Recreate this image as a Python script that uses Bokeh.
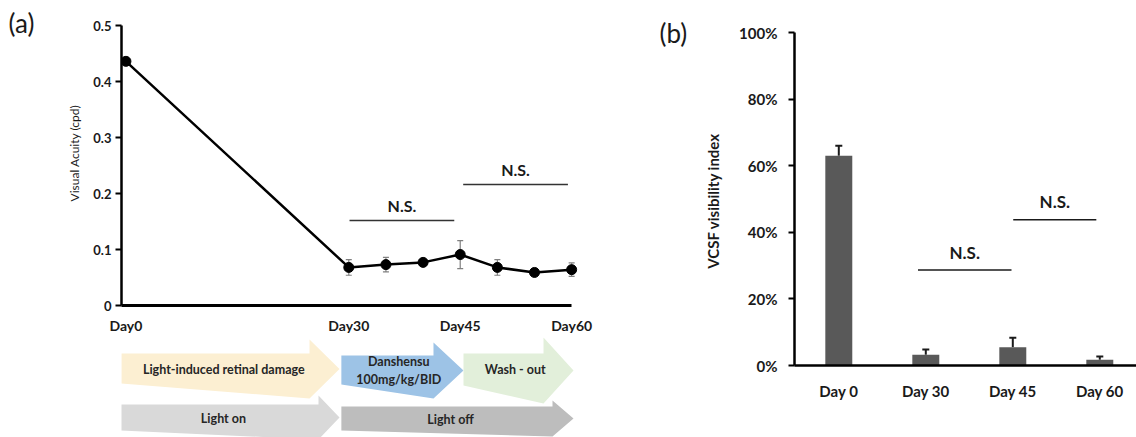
from bokeh.plotting import figure
from bokeh.models import Range1d, FixedTicker, Whisker, ColumnDataSource, TeeHead, NumeralTickFormatter
from bokeh.layouts import row, column
from bokeh.embed import file_html
from bokeh.resources import INLINE
from bokeh.core.properties import value

# ---------------- data ----------------
# (a) visual acuity
va_days = [0, 30, 35, 40, 45, 50, 55, 60]
va_mean = [0.436, 0.068, 0.073, 0.077, 0.091, 0.068, 0.059, 0.064]
va_err = [0.004, 0.014, 0.013, 0.005, 0.025, 0.014, 0.005, 0.012]
va_tick_days = [0, 30, 45, 60]
va_tick_labels = ["Day0", "Day30", "Day45", "Day60"]
va_yticks = [0, 0.1, 0.2, 0.3, 0.4, 0.5]
va_ns_x0 = [30.1, 45.4]
va_ns_x1 = [44.2, 59.5]
va_ns_y = [0.152, 0.216]

# timeline phases
treat_labels = ["Light-induced retinal damage", "Danshensu\n100mg/kg/BID", "Wash - out"]
treat_start = [0, 30, 45]
treat_end = [30, 45, 60]
light_labels = ["Light on", "Light off"]
light_start = [0, 30]
light_end = [30, 60]

# (b) VCSF visibility index
vcsf_days = ["Day 0", "Day 30", "Day 45", "Day 60"]
vcsf_mean = [0.63, 0.032, 0.055, 0.017]
vcsf_err = [0.03, 0.016, 0.028, 0.010]
vcsf_yticks = [0, 0.2, 0.4, 0.6, 0.8, 1.0]
vcsf_ns_x0 = [0.91, 2.005]
vcsf_ns_x1 = [1.985, 2.96]
vcsf_ns_y = [0.287, 0.438]

panel_tags = ["(a)", "(b)"]

# ---------------- style ----------------
FONT = "Lato"
TXT = "#1a1a1a"
DAY_PX = 7.4286      # px per day in panel (a)
DAY0_PX = 125.43     # page x of day 0
VA_PX = 560.0        # px per unit of acuity
VA0_PY = 305.0       # page y of acuity 0

def style_fig(p):
    p.xgrid.visible = False
    p.ygrid.visible = False
    p.outline_line_color = None
    p.background_fill_color = None
    p.border_fill_color = None

# ---------------- "(a)" tag strip ----------------
fa = figure(width=50, height=437, x_range=Range1d(0, 50), y_range=Range1d(437, 0),
            output_backend="svg", toolbar_location=None, x_axis_type=None, y_axis_type=None,
            min_border=0)
style_fig(fa)
fa.text(x=[8], y=[22.5], text=[panel_tags[0]], text_font=value(FONT), text_font_size="26px",
        text_align="left", text_baseline="middle", text_color=TXT)

# ---------------- panel (a) ----------------
PA_LEFT = 50
BORDER_L = 71
x_start = (PA_LEFT + BORDER_L - DAY0_PX) / DAY_PX
x_end = (700 - DAY0_PX) / DAY_PX
y_top = 0.5 + 25 / VA_PX
pa = figure(width=650, height=337, x_range=Range1d(x_start, x_end), y_range=Range1d(0, y_top),
            output_backend="svg", toolbar_location=None,
            min_border_left=BORDER_L, min_border_right=0, min_border_top=0, min_border_bottom=32)
style_fig(pa)

pa.xaxis.ticker = FixedTicker(ticks=va_tick_days)
pa.xaxis.major_label_overrides = {d: l for d, l in zip(va_tick_days, va_tick_labels)}
pa.xaxis.bounds = (x_start, 60)
pa.xaxis.major_tick_out = 0
pa.xaxis.major_tick_in = 0
pa.xaxis.major_tick_line_color = None
pa.xaxis.minor_tick_line_color = None
pa.xaxis.axis_line_width = 3
pa.xaxis.major_label_standoff = 11
pa.xaxis.major_label_text_font = FONT
pa.xaxis.major_label_text_font_style = "bold"
pa.xaxis.major_label_text_font_size = "14px"
pa.xaxis.major_label_text_color = TXT

pa.yaxis.bounds = (0, 0.5)
pa.yaxis.ticker = FixedTicker(ticks=va_yticks)
pa.yaxis.major_label_overrides = {0: "0"}
pa.yaxis.minor_tick_line_color = None
pa.yaxis.major_tick_in = 0
pa.yaxis.major_tick_out = 6
pa.yaxis.major_tick_line_width = 2
pa.yaxis.axis_line_width = 2.5
pa.yaxis.major_label_standoff = 4
pa.yaxis.major_label_text_font = FONT
pa.yaxis.major_label_text_font_style = "bold"
pa.yaxis.major_label_text_font_size = "13px"
pa.yaxis.major_label_text_color = TXT
pa.yaxis.axis_label = "Visual Acuity (cpd)"
pa.yaxis.axis_label_text_font = FONT
pa.yaxis.axis_label_text_font_style = "normal"
pa.yaxis.axis_label_text_font_size = "12px"
pa.yaxis.axis_label_text_color = TXT
pa.yaxis.axis_label_standoff = 8

src_a = ColumnDataSource(dict(x=va_days, y=va_mean,
                              lo=[m - e for m, e in zip(va_mean, va_err)],
                              hi=[m + e for m, e in zip(va_mean, va_err)]))
pa.add_layout(Whisker(source=src_a, base="x", upper="hi", lower="lo",
                      line_color="#808080", line_width=1.2,
                      upper_head=TeeHead(size=6, line_color="#808080", line_width=1.2),
                      lower_head=TeeHead(size=6, line_color="#808080", line_width=1.2)))
pa.line("x", "y", source=src_a, line_color="black", line_width=2.5)
pa.scatter("x", "y", source=src_a, size=10, color="black")

pa.segment(x0=va_ns_x0, y0=va_ns_y, x1=va_ns_x1, y1=va_ns_y, line_color="#333333", line_width=1.5)
pa.text(x=[(a + b) / 2 for a, b in zip(va_ns_x0, va_ns_x1)], y=[y + 0.026 for y in va_ns_y],
        text=["N.S.", "N.S."], text_font=value(FONT), text_font_style="bold",
        text_font_size="16px", text_align="center", text_baseline="middle", text_color=TXT)

# "(b)" tag sits in the gap between the two panels
pa.text(x=[(659 - DAY0_PX) / DAY_PX], y=[(VA0_PY - 32.5) / VA_PX], text=[panel_tags[1]],
        text_font=value(FONT), text_font_size="26px", text_align="left",
        text_baseline="middle", text_color=TXT)

# ---------------- timeline arrows ----------------
pb = figure(width=650, height=100, x_range=pa.x_range, y_range=Range1d(437, 337),
            output_backend="svg", toolbar_location=None, x_axis_type=None, y_axis_type=None,
            min_border_left=BORDER_L, min_border_right=0, min_border_top=0, min_border_bottom=0)
style_fig(pb)

def arrow(x0, tip, head_len, body_top, body_bot, head_top, head_bot):
    mid = (head_top + head_bot) / 2
    xh = tip - head_len
    xs = [x0, xh, xh, tip, xh, xh, x0]
    ys = [body_top, body_top, head_top, mid, head_bot, head_bot, body_bot]
    return xs, ys

treat_colors = ["#FCEFD2", "#9DC3E6", "#E2EFDA"]
treat_start_off = [-0.64, -1.0, 0.44]
treat_tip_off = [-1.25, 0.44, 0.25]
treat_body = [(353, 383), (355, 384), (353, 385)]
treat_head = [(339, 398), (342, 398), (337, 403)]
txs, tys = [], []
for i in range(3):
    xs, ys = arrow(treat_start[i] + treat_start_off[i], treat_end[i] + treat_tip_off[i], 30 / DAY_PX,
                   treat_body[i][0], treat_body[i][1], treat_head[i][0], treat_head[i][1])
    txs.append(xs); tys.append(ys)
pb.patches(txs, tys, fill_color=treat_colors, line_color=None)
t_cx = [treat_start[i] + treat_start_off[i] + 0.47 * (treat_end[i] + treat_tip_off[i] - treat_start[i] - treat_start_off[i]) for i in range(3)]
pb.text(x=t_cx, y=[369, 370, 369], text=treat_labels, text_font=value(FONT), text_font_style="bold",
        text_font_size="12.5px", text_align="center", text_baseline="middle", text_color="#262626",
        text_line_height=1.25)

light_colors = ["#D9D9D9", "#BDBDBD"]
light_start_off = [-0.73, -1.0]
light_tip_off = [-1.25, 0.25]
light_body = [(404, 430), (406, 430)]
light_head = [(395, 439), (400, 436)]
lxs, lys = [], []
for i in range(2):
    xs, ys = arrow(light_start[i] + light_start_off[i], light_end[i] + light_tip_off[i], 21 / DAY_PX,
                   light_body[i][0], light_body[i][1], light_head[i][0], light_head[i][1])
    lxs.append(xs); lys.append(ys)
pb.patches(lxs, lys, fill_color=light_colors, line_color=None)
l_cx = [light_start[i] + light_start_off[i] + 0.47 * (light_end[i] + light_tip_off[i] - light_start[i] - light_start_off[i]) for i in range(2)]
pb.text(x=l_cx, y=[418, 419], text=light_labels, text_font=value(FONT), text_font_style="bold",
        text_font_size="12.5px", text_align="center", text_baseline="middle", text_color="#262626")

# ---------------- panel (b) ----------------
BAR_PX = 87.0
BAR0_PX = 838.3
pc = figure(width=436, height=437,
            x_range=Range1d((794 - BAR0_PX) / BAR_PX, (1136 - BAR0_PX) / BAR_PX), y_range=Range1d(0, 1.0),
            output_backend="svg", toolbar_location=None,
            min_border_left=94, min_border_right=0, min_border_top=32, min_border_bottom=72)
style_fig(pc)
xpos = list(range(len(vcsf_days)))
pc.xaxis.ticker = FixedTicker(ticks=xpos)
pc.xaxis.major_label_overrides = {i: d for i, d in zip(xpos, vcsf_days)}
pc.xaxis.major_tick_out = 0
pc.xaxis.major_tick_in = 0
pc.xaxis.major_tick_line_color = None
pc.xaxis.minor_tick_line_color = None
pc.xaxis.axis_line_width = 2.5
pc.xaxis.major_label_standoff = 16
pc.xaxis.major_label_text_font = FONT
pc.xaxis.major_label_text_font_style = "bold"
pc.xaxis.major_label_text_font_size = "15px"
pc.xaxis.major_label_text_color = TXT

pc.yaxis.ticker = FixedTicker(ticks=vcsf_yticks)
pc.yaxis.formatter = NumeralTickFormatter(format="0%")
pc.yaxis.minor_tick_line_color = None
pc.yaxis.major_tick_in = 0
pc.yaxis.major_tick_out = 6
pc.yaxis.major_tick_line_width = 2
pc.yaxis.axis_line_width = 2.5
pc.yaxis.major_label_standoff = 11
pc.yaxis.major_label_text_font = FONT
pc.yaxis.major_label_text_font_style = "bold"
pc.yaxis.major_label_text_font_size = "15px"
pc.yaxis.major_label_text_color = TXT
pc.yaxis.axis_label = "VCSF  visibility index"
pc.yaxis.axis_label_text_font = FONT
pc.yaxis.axis_label_text_font_style = "bold"
pc.yaxis.axis_label_text_font_size = "15px"
pc.yaxis.axis_label_text_color = TXT
pc.yaxis.axis_label_standoff = 14

src_c = ColumnDataSource(dict(x=xpos, top=vcsf_mean,
                              hi=[m + e for m, e in zip(vcsf_mean, vcsf_err)]))
pc.add_layout(Whisker(source=src_c, base="x", upper="hi", lower="top",
                      line_color=TXT, line_width=2,
                      upper_head=TeeHead(size=7, line_color=TXT, line_width=2),
                      lower_head=None, level="underlay"))
pc.vbar(x="x", top="top", width=0.31, source=src_c, fill_color="#595959", line_color=None)

pc.segment(x0=vcsf_ns_x0, y0=vcsf_ns_y, x1=vcsf_ns_x1, y1=vcsf_ns_y, line_color=TXT, line_width=1.5)
pc.text(x=[(a + b) / 2 for a, b in zip(vcsf_ns_x0, vcsf_ns_x1)], y=[y + 0.053 for y in vcsf_ns_y],
        text=["N.S.", "N.S."], text_font=value(FONT), text_font_style="bold",
        text_font_size="17px", text_align="center", text_baseline="middle", text_color=TXT)

layout = row(column(fa), column(pa, pb), pc)
open("out.html", "w").write(file_html(layout, INLINE))
